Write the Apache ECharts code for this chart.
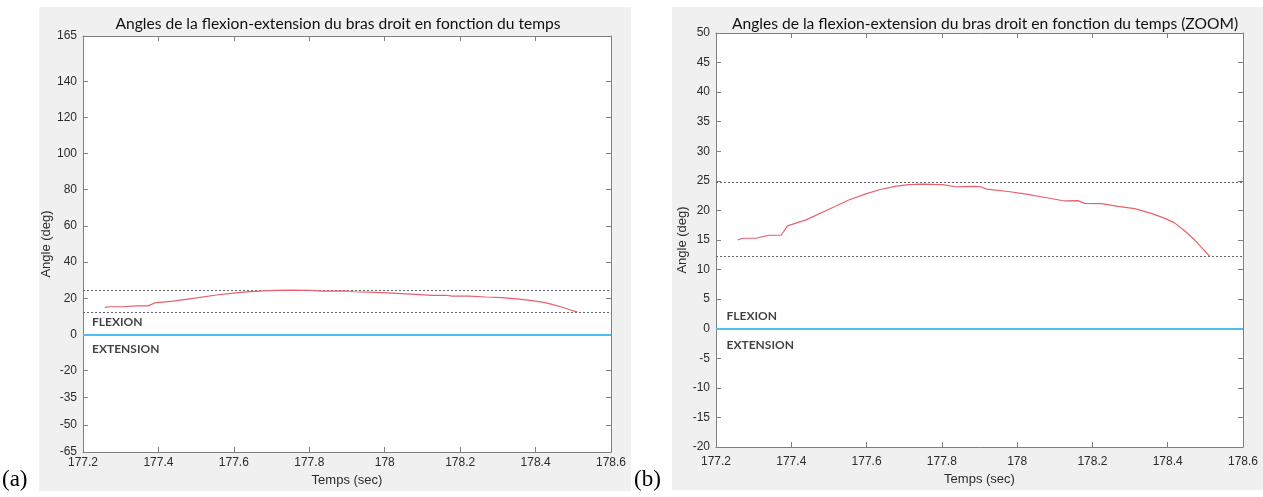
<!DOCTYPE html>
<html>
<head>
<meta charset="utf-8">
<script src="https://cdn.jsdelivr.net/npm/echarts@6/dist/echarts.min.js"></script>
<style>
html,body{margin:0;padding:0;background:#fff;}
#c{width:1263px;height:497px;}
</style>
</head>
<body>
<div id="c"></div>
<script>
// ---- data ----
var titles = [
  'Angles de la flexion-extension du bras droit en fonction du temps',
  'Angles de la flexion-extension du bras droit en fonction du temps (ZOOM)'
];
var panelLetters = ['(a)', '(b)'];
var xName = 'Temps (sec)';
var yName = 'Angle (deg)';
var xTicks = [177.2, 177.4, 177.6, 177.8, 178, 178.2, 178.4, 178.6];
var yTicksA = [165, 140, 120, 100, 80, 60, 40, 20, 0, -20, -35, -50, -65];
var yTicksB = [50, 45, 40, 35, 30, 25, 20, 15, 10, 5, 0, -5, -10, -15, -20];
var time = [177.258, 177.271, 177.306, 177.341, 177.373, 177.390, 177.439, 177.492, 177.554,
  177.598, 177.634, 177.678, 177.713, 177.749, 177.802, 177.837, 177.887, 177.903, 177.919,
  177.976, 178.020, 178.082, 178.126, 178.162, 178.179, 178.224, 178.268, 178.312, 178.356,
  178.391, 178.418, 178.444, 178.471, 178.493, 178.511];
var angle = [15.0, 15.3, 15.3, 15.8, 15.8, 17.4, 18.4, 19.95, 21.8,
  22.8, 23.5, 24.1, 24.35, 24.45, 24.35, 24.0, 24.07, 24.0, 23.6,
  23.2, 22.8, 22.1, 21.6, 21.65, 21.2, 21.15, 20.7, 20.3, 19.5,
  18.7, 17.9, 16.6, 15.05, 13.5, 12.3];
var refHigh = 24.7;
var refLow = 12.3;
var zeroLine = 0;
var labelFlexion = 'FLEXION';
var labelExtension = 'EXTENSION';
var annotA = [[177.224, 6.6], [177.224, -8.3]];
var annotB = [[177.228, 2.2], [177.228, -2.7]];

// ---- chart ----
var chart = echarts.init(document.getElementById('c'), null, {renderer: 'canvas'});
var AX = '#7f7f7f', TXT = '#2b2b2b', FONT = 'Liberation Sans';
var grids = [
  {left: 83, top: 36, width: 528, height: 416},
  {left: 716, top: 33, width: 527, height: 414}
];
var titleCenters = [333, 980];
var yCfg = [
  {min: -65, max: 165, ticks: yTicksA, nameGap: 29},
  {min: -20, max: 50, ticks: yTicksB, nameGap: 26}
];
var xGaps = [{label: 5, name: 14}, {label: 9, name: 19}];
var annots = [annotA, annotB];

var xAxes = [], yAxes = [], series = [], titleArr = [];
var pts = time.map(function (t, i) { return [t, angle[i]]; });

grids.forEach(function (g, i) {
  xAxes.push({
    type: 'value', gridIndex: i, position: 'bottom', min: 177.2, max: 178.6,
    name: xName, nameLocation: 'middle', nameGap: xGaps[i].name,
    nameTextStyle: {fontFamily: FONT, fontSize: 13, color: TXT},
    axisLine: {show: true, onZero: false, lineStyle: {color: AX, width: 1}},
    axisTick: {show: true, inside: true, length: 5, customValues: xTicks, lineStyle: {color: AX}},
    axisLabel: {show: true, customValues: xTicks, margin: xGaps[i].label, fontFamily: FONT, fontSize: 12, color: TXT,
      formatter: function (v) { return String(Math.round(v * 10) / 10); }},
    splitLine: {show: false}
  });
  xAxes.push({
    type: 'value', gridIndex: i, position: 'top', min: 177.2, max: 178.6,
    axisLine: {show: true, onZero: false, lineStyle: {color: AX, width: 1}},
    axisTick: {show: true, inside: true, length: 5, customValues: xTicks, lineStyle: {color: AX}},
    axisLabel: {show: false}, splitLine: {show: false}
  });
  var yc = yCfg[i];
  yAxes.push({
    type: 'value', gridIndex: i, position: 'left', min: yc.min, max: yc.max,
    name: yName, nameLocation: 'middle', nameGap: yc.nameGap, nameRotate: 90,
    nameTextStyle: {fontFamily: FONT, fontSize: 13, color: TXT},
    axisLine: {show: true, onZero: false, lineStyle: {color: AX, width: 1}},
    axisTick: {show: true, inside: true, length: 5, customValues: yc.ticks, lineStyle: {color: AX}},
    axisLabel: {show: true, customValues: yc.ticks, margin: 6, fontFamily: FONT, fontSize: 12, color: TXT},
    splitLine: {show: false}
  });
  yAxes.push({
    type: 'value', gridIndex: i, position: 'right', min: yc.min, max: yc.max,
    axisLine: {show: true, onZero: false, lineStyle: {color: AX, width: 1}},
    axisTick: {show: true, inside: true, length: 5, customValues: yc.ticks, lineStyle: {color: AX}},
    axisLabel: {show: false}, splitLine: {show: false}
  });

  series.push({
    type: 'line', xAxisIndex: 2 * i, yAxisIndex: 2 * i, data: pts,
    showSymbol: false, symbol: 'none', smooth: false,
    lineStyle: {color: '#e9606b', width: 1.2},
    silent: true, z: 5,
    markLine: {
      silent: true, symbol: 'none', label: {show: false},
      data: [
        {yAxis: refHigh, lineStyle: {type: [2, 2], color: '#666', width: 1}},
        {yAxis: refLow, lineStyle: {type: [2, 2], color: '#666', width: 1}},
        {yAxis: zeroLine, lineStyle: {type: 'solid', color: '#4DBEEE', width: 2}}
      ]
    }
  });
  series.push({
    type: 'scatter', xAxisIndex: 2 * i, yAxisIndex: 2 * i, symbolSize: 0, silent: true,
    data: [
      {value: annots[i][0], label: {formatter: labelFlexion}},
      {value: annots[i][1], label: {formatter: labelExtension}}
    ],
    label: {show: true, position: 'right', distance: 0, fontFamily: 'Lato', fontWeight: 'bold',
      fontSize: 12, color: '#111'}
  });
  titleArr.push({
    text: titles[i], left: titleCenters[i], top: 11, textAlign: 'center',
    textStyle: {fontFamily: 'Lato', fontWeight: 'normal', fontSize: 15.6, color: '#111'}
  });
});

var option = {
  animation: false,
  backgroundColor: '#ffffff',
  title: titleArr,
  graphic: [
    {type: 'rect', shape: {x: 39, y: 7, width: 592, height: 484}, style: {fill: '#f0f0f0'}, z: -10, silent: true},
    {type: 'rect', shape: {x: 672, y: 7, width: 591, height: 483}, style: {fill: '#f0f0f0'}, z: -10, silent: true},
    {type: 'text', left: 2, top: 468, style: {text: panelLetters[0], font: '23px "Liberation Serif"', fill: '#000'}},
    {type: 'text', left: 634, top: 468, style: {text: panelLetters[1], font: '23px "Liberation Serif"', fill: '#000'}}
  ],
  grid: grids.map(function (g) {
    return {left: g.left, top: g.top, width: g.width, height: g.height, show: true,
      backgroundColor: '#ffffff', borderWidth: 0, containLabel: false};
  }),
  xAxis: xAxes,
  yAxis: yAxes,
  series: series
};
chart.setOption(option);
</script>
</body>
</html>
